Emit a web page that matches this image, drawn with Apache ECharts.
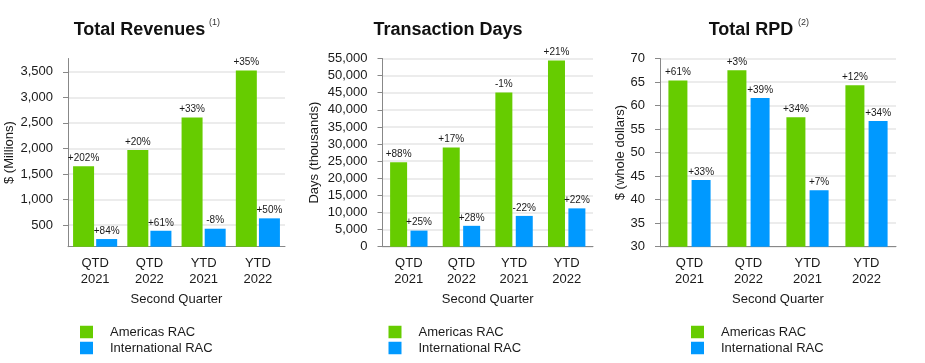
<!DOCTYPE html>
<html>
<head>
<meta charset="utf-8">
<script src="https://cdn.jsdelivr.net/npm/echarts@6/dist/echarts.min.js"></script>
<style>
html,body{margin:0;padding:0;background:#fff;}
#c{width:925px;height:363px;}
</style>
</head>
<body>
<div id="c"></div>
<script>
var categories = ['QTD\n2021', 'QTD\n2022', 'YTD\n2021', 'YTD\n2022'];
var seriesNames = ['Americas RAC', 'International RAC'];

var revAmericas = [1650, 1970, 2605, 3525];
var revIntl = [226, 388, 428, 631];
var revAmericasPct = ['+202%', '+20%', '+33%', '+35%'];
var revIntlPct = ['+84%', '+61%', '-8%', '+50%'];
var revTicks = [500, 1000, 1500, 2000, 2500, 3000, 3500];

var daysAmericas = [24700, 29000, 45050, 54400];
var daysIntl = [4700, 6100, 9000, 11200];
var daysAmericasPct = ['+88%', '+17%', '-1%', '+21%'];
var daysIntlPct = ['+25%', '+28%', '-22%', '+22%'];

var rpdAmericas = [65.3, 67.5, 57.5, 64.3];
var rpdIntl = [44.2, 61.6, 42.0, 56.7];
var rpdAmericasPct = ['+61%', '+3%', '+34%', '+12%'];
var rpdIntlPct = ['+33%', '+39%', '+7%', '+34%'];

var FONT = 'Arial, "Liberation Sans", sans-serif';
var GREEN = '#66cc00';
var BLUE = '#0099ff';
var AXIS = '#888888';
var TXT = '#1a1a1a';

function fmt(v) { return Number(v).toLocaleString('en-US'); }

var grids = [
  { left: 68, top: 58.5, width: 217, height: 188.2 },
  { left: 382.5, top: 58.5, width: 210.5, height: 188.2 },
  { left: 660, top: 58.5, width: 236, height: 188.2 }
];

function xAxis(i) {
  return {
    type: 'category', gridIndex: i, data: categories,
    name: 'Second Quarter', nameLocation: 'middle', nameGap: 44,
    nameTextStyle: { fontFamily: FONT, fontSize: 13, color: TXT },
    axisLine: { lineStyle: { color: AXIS } },
    axisTick: { alignWithLabel: true, length: 5, lineStyle: { color: AXIS } },
    axisLabel: { fontFamily: FONT, fontSize: 13, color: TXT, margin: 9, lineHeight: 16 }
  };
}

var splitStyle = { show: true, lineStyle: { color: '#e6e6e6', width: 1.5 } };

var yAxes = [
  {
    type: 'value', gridIndex: 0, min: 76, max: 3760,
    name: '$ (Millions)', nameLocation: 'middle', nameGap: 52,
    nameTextStyle: { fontFamily: FONT, fontSize: 13, color: TXT },
    axisLine: { show: true, lineStyle: { color: AXIS } },
    axisTick: { show: true, length: 5, lineStyle: { color: AXIS }, customValues: revTicks },
    axisLabel: { fontFamily: FONT, fontSize: 13, color: TXT, margin: 15, customValues: revTicks, formatter: fmt },
    splitLine: splitStyle
  },
  {
    type: 'value', gridIndex: 1, min: 0, max: 55000, interval: 5000,
    name: 'Days (thousands)', nameLocation: 'middle', nameGap: 62,
    nameTextStyle: { fontFamily: FONT, fontSize: 13, color: TXT },
    axisLine: { show: true, lineStyle: { color: AXIS } },
    axisTick: { show: true, length: 5, lineStyle: { color: AXIS } },
    axisLabel: { fontFamily: FONT, fontSize: 13, color: TXT, margin: 15, formatter: fmt },
    splitLine: splitStyle
  },
  {
    type: 'value', gridIndex: 2, min: 30, max: 70, interval: 5,
    name: '$ (whole dollars)', nameLocation: 'middle', nameGap: 32,
    nameTextStyle: { fontFamily: FONT, fontSize: 13, color: TXT },
    axisLine: { show: true, lineStyle: { color: AXIS } },
    axisTick: { show: true, length: 5, lineStyle: { color: AXIS } },
    axisLabel: { fontFamily: FONT, fontSize: 13, color: TXT, margin: 15 },
    splitLine: splitStyle
  }
];

var barWidths = [21, 17, 19];
var barGaps = ['10%', '20%', '22%'];
var sets = [
  [revAmericas, revIntl, revAmericasPct, revIntlPct],
  [daysAmericas, daysIntl, daysAmericasPct, daysIntlPct],
  [rpdAmericas, rpdIntl, rpdAmericasPct, rpdIntlPct]
];

var series = [];
sets.forEach(function (s, i) {
  [0, 1].forEach(function (k) {
    var pct = s[k + 2];
    series.push({
      type: 'bar', name: seriesNames[k], xAxisIndex: i, yAxisIndex: i,
      data: s[k], barWidth: barWidths[i], barGap: barGaps[i],
      itemStyle: { color: k === 0 ? GREEN : BLUE },
      label: {
        show: true, position: 'top', distance: 3,
        fontFamily: FONT, fontSize: 10, color: TXT,
        formatter: function (p) { return pct[p.dataIndex]; }
      },
      emphasis: { disabled: true },
      animation: false
    });
  });
});

function legend(left) {
  return {
    data: seriesNames, orient: 'vertical', left: left, top: 324, padding: 0,
    itemWidth: 13, itemHeight: 12.5, itemGap: 0, icon: 'rect', selectedMode: false,
    textStyle: { fontFamily: FONT, fontSize: 13, color: TXT, lineHeight: 16, padding: [0, 0, 0, 12] }
  };
}

var titles = [
  { x: 139.5, text: 'Total Revenues', sup: '(1)', supX: 209 },
  { x: 448, text: 'Transaction Days' },
  { x: 751, text: 'Total RPD', sup: '(2)', supX: 798 }
];
var graphics = [];
titles.forEach(function (t) {
  graphics.push({
    type: 'text', x: t.x, y: 30.5,
    style: { text: t.text, font: 'bold 18px ' + FONT, fill: '#111', textAlign: 'center', textVerticalAlign: 'middle' }
  });
  if (t.sup) {
    graphics.push({
      type: 'text', x: t.supX, y: 23,
      style: { text: t.sup, font: '9px ' + FONT, fill: '#333', textAlign: 'left', textVerticalAlign: 'middle' }
    });
  }
});

var chart = echarts.init(document.getElementById('c'), null, { renderer: 'canvas' });
chart.setOption({
  backgroundColor: '#ffffff',
  animation: false,
  grid: grids,
  xAxis: [xAxis(0), xAxis(1), xAxis(2)],
  yAxis: yAxes,
  legend: [legend(80), legend(388.5), legend(691)],
  series: series,
  graphic: graphics
});
</script>
</body>
</html>
